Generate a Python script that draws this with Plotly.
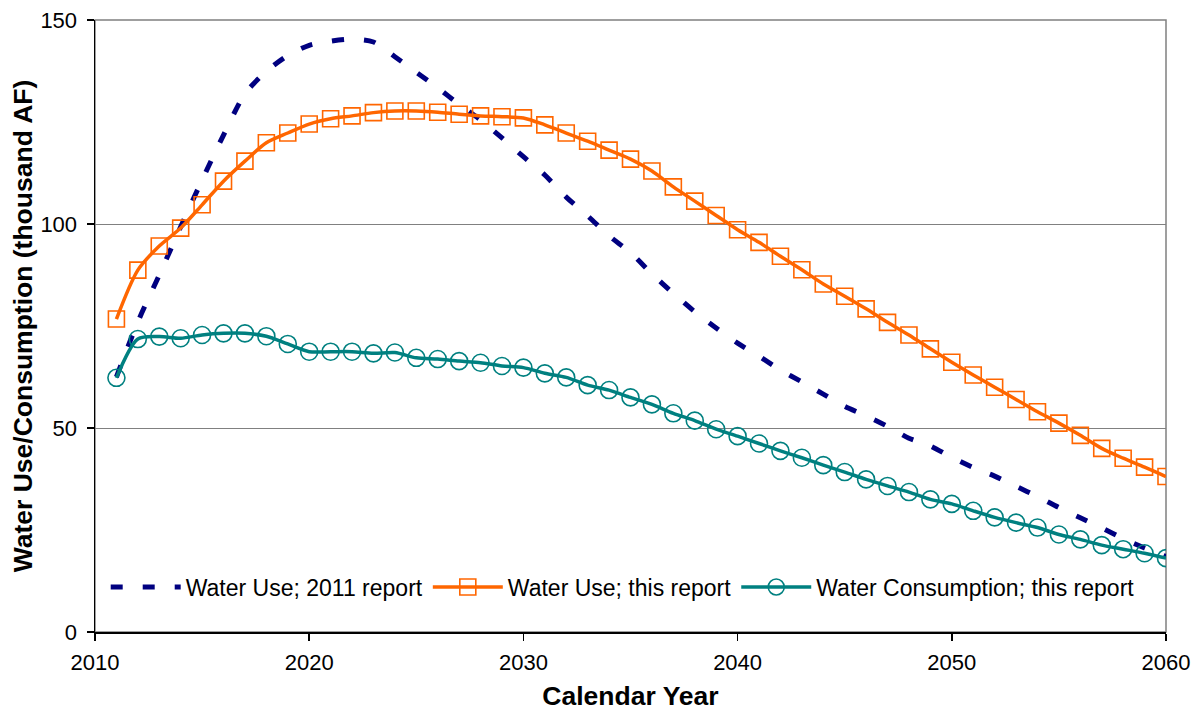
import plotly.graph_objects as go

years = list(range(2011, 2061))

use_2011_report = [62.5, 76.0, 87.5, 99.3, 110.8, 121.8, 131.9, 137.4, 141.3, 143.8,
                   144.8, 145.3, 144.6, 141.0, 137.2, 133.4, 129.3, 125.5, 121.1, 116.5,
                   112.0, 106.6, 102.0, 97.1, 93.0, 87.8, 83.0, 78.5, 74.5, 70.8,
                   67.6, 64.2, 61.3, 58.3, 55.3, 53.0, 50.4, 47.5, 45.6, 42.8,
                   40.3, 38.2, 35.7, 33.2, 30.5, 28.0, 25.5, 22.9, 20.6, 18.5]

use_this_report = [76.7, 88.7, 94.6, 99.0, 104.7, 110.5, 115.4, 119.9, 122.3, 124.5,
                   125.8, 126.5, 127.3, 127.7, 127.7, 127.4, 126.9, 126.5, 126.3, 126.0,
                   124.3, 122.3, 120.3, 118.1, 115.9, 113.0, 109.1, 105.6, 102.1, 98.6,
                   95.5, 92.1, 88.8, 85.3, 82.3, 79.2, 75.9, 72.8, 69.4, 66.1,
                   63.0, 60.0, 57.0, 54.0, 51.2, 48.2, 45.0, 42.6, 40.4, 38.1]

consumption_this_report = [62.3, 71.8, 72.4, 72.0, 72.8, 73.2, 73.2, 72.5, 70.6, 68.7,
                           68.7, 68.7, 68.3, 68.5, 67.2, 66.9, 66.4, 66.0, 65.2, 64.8,
                           63.4, 62.4, 60.5, 59.3, 57.5, 55.8, 53.6, 51.8, 49.7, 48.0,
                           46.2, 44.4, 42.7, 40.9, 39.2, 37.4, 35.8, 34.3, 32.5, 31.4,
                           29.7, 28.1, 26.8, 25.6, 23.9, 22.7, 21.3, 20.3, 19.3, 18.1]

series_names = ["Water Use; 2011 report", "Water Use; this report",
                "Water Consumption; this report"]

x_ticks = [2010, 2020, 2030, 2040, 2050, 2060]
y_ticks = [0, 50, 100, 150]

FONT = "Arial, Liberation Sans, sans-serif"

fig = go.Figure()

fig.add_trace(go.Scatter(
    x=years, y=use_2011_report, name=series_names[0], mode="lines",
    line=dict(color="#000080", width=5, dash="12px,20px", shape="spline", smoothing=0.8),
    hoverinfo="skip",
))
fig.add_trace(go.Scatter(
    x=years, y=use_this_report, name=series_names[1], mode="lines+markers",
    line=dict(color="#FF6600", width=3.5, shape="spline", smoothing=0.8),
    marker=dict(symbol="square-open", size=16, color="#FF6600", line=dict(width=1.6, color="#FF6600")),
    hoverinfo="skip",
))
fig.add_trace(go.Scatter(
    x=years, y=consumption_this_report, name=series_names[2], mode="lines+markers",
    line=dict(color="#008080", width=3.5, shape="spline", smoothing=0.8),
    marker=dict(symbol="circle-open", size=17, color="#008080", line=dict(width=1.6, color="#008080")),
    hoverinfo="skip",
))

fig.update_layout(
    width=1196, height=711,
    margin=dict(l=95, r=30, t=20, b=79),
    paper_bgcolor="white", plot_bgcolor="white",
    font=dict(family=FONT, size=22, color="black"),
    showlegend=True,
    hovermode=False,
    legend=dict(
        orientation="h", x=0.01, y=0.0735, xanchor="left", yanchor="middle",
        font=dict(family=FONT, size=23, color="black"),
        bgcolor="rgba(0,0,0,0)", itemwidth=70, traceorder="normal",
        itemclick=False, itemdoubleclick=False,
    ),
    xaxis=dict(
        range=[2010, 2060], tickvals=x_ticks, ticktext=[str(v) for v in x_ticks],
        showgrid=False, zeroline=False,
        showline=True, linecolor="black", linewidth=1.5,
        ticks="outside", ticklen=7, tickwidth=1.5, tickcolor="black",
        tickfont=dict(family=FONT, size=22), ticklabeloverflow="allow",
        ticklabelstandoff=3,
        title=dict(text="<b>Calendar Year</b>", font=dict(family=FONT, size=26.5), standoff=12),
        automargin=False,
    ),
    yaxis=dict(
        range=[0, 150], tickvals=y_ticks,
        showgrid=True, gridcolor="#808080", gridwidth=1, zeroline=False,
        showline=True, linecolor="black", linewidth=1.5,
        ticks="outside", ticklen=7, tickwidth=1.5, tickcolor="black",
        tickfont=dict(family=FONT, size=22), ticklabeloverflow="allow",
        ticklabelstandoff=5,
        title=dict(text="<b>Water Use/Consumption (thousand AF)</b>", font=dict(family=FONT, size=26.5), standoff=0),
        automargin=False,
    ),
    shapes=[dict(type="rect", xref="paper", yref="paper", x0=0, y0=0, x1=1, y1=1,
                 line=dict(color="#808080", width=1.5), layer="below")],
)

fig.write_html("out.html", config={"displayModeBar": False, "staticPlot": True},
               post_script="document.body.style.margin='0';document.body.style.overflow='hidden';")
